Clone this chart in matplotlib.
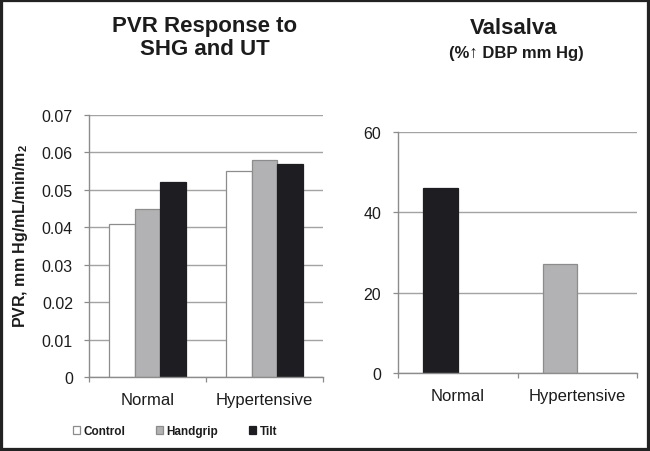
"""PVR response to SHG/UT and Valsalva DBP rise, normal vs hypertensive."""
from __future__ import annotations

import matplotlib
matplotlib.use("Agg")
import matplotlib.pyplot as plt
import numpy as np
from matplotlib.patches import Rectangle

GROUPS = ["Normal", "Hypertensive"]
PVR_SERIES = ["Control", "Handgrip", "Tilt"]
PVR_CONTROL = [0.041, 0.055]
PVR_HANDGRIP = [0.045, 0.058]
PVR_TILT = [0.052, 0.057]
PVR_TICKS = [0, 0.01, 0.02, 0.03, 0.04, 0.05, 0.06, 0.07]
PVR_TICK_LABELS = ["0", "0.01", "0.02", "0.03", "0.04", "0.05", "0.06", "0.07"]
VALSALVA = [46, 27]
VALSALVA_TICKS = [0, 20, 40, 60]

INK = "#1c1c1c"
EDGE = "#8c8c8c"
GRID = "#a3a3a3"
DARK = "#1e1e22"
GREY = "#b2b2b4"


def style_axes(ax) -> None:
    ax.spines[["top", "right"]].set_visible(False)
    ax.spines[["left", "bottom"]].set_color(EDGE)
    ax.spines[["left", "bottom"]].set_linewidth(1.0)
    ax.set_axisbelow(True)
    ax.yaxis.grid(True, color=GRID, lw=1.0)
    ax.tick_params(axis="y", direction="out", length=3.6, width=0.9, color=EDGE,
                   pad=8, labelsize=11.5, labelcolor=INK)
    ax.tick_params(axis="x", which="major", direction="out", length=3.6, width=0.9,
                   color=EDGE, labelbottom=False)
    ax.tick_params(axis="x", which="minor", length=0, pad=11, labelsize=12, labelcolor=INK)
    ax.set_xlim(-0.5, 1.5)
    ax.set_xticks([-0.5, 0.5, 1.5])
    ax.set_xticks(np.arange(len(GROUPS)), GROUPS, minor=True)


def main() -> None:
    plt.rcParams.update({
        "font.family": ["Liberation Sans", "DejaVu Sans"],
        "mathtext.fontset": "custom", "mathtext.rm": "Liberation Sans:bold",
        "mathtext.default": "rm",
    })
    fig = plt.figure(figsize=(6.5, 4.52), dpi=100)

    # left: grouped PVR bars
    ax = fig.add_axes([89 / 650, 74 / 452, 234 / 650, 262 / 452])
    x = np.arange(len(GROUPS))
    w = 0.222
    hc = ax.bar(x - w, PVR_CONTROL, w, color="white", edgecolor=EDGE, lw=0.9)
    hh = ax.bar(x, PVR_HANDGRIP, w, color=GREY, edgecolor=EDGE, lw=0.9)
    ht = ax.bar(x + w, PVR_TILT, w, color=DARK, edgecolor=DARK, lw=0.9)
    ax.set_ylim(0, 0.07)
    style_axes(ax)
    ax.set_yticks(PVR_TICKS, PVR_TICK_LABELS)

    # baseline of a multi-line text is that of its last line
    fig.text(205 / 650, 1 - 55 / 452, "PVR Response to\nSHG and UT", ha="center", va="baseline",
             fontsize=16, fontweight="bold", color=INK, linespacing=1.12)
    fig.text(21 / 650, 1 - 236 / 452, "PVR, mm Hg/mL/min/m$_2$", rotation=90,
             ha="center", va="center", fontsize=11.5, fontweight="bold", color=INK)
    fig.legend([hc, hh, ht], PVR_SERIES, loc="center", bbox_to_anchor=(175 / 650, 1 - 432 / 452),
               ncol=3, frameon=False, prop={"size": 8.5, "weight": "bold"},
               handlelength=0.6, handleheight=0.6,
               handletextpad=0.3, columnspacing=2.6, borderpad=0, labelcolor=INK)

    # right: Valsalva bars
    ax2 = fig.add_axes([398 / 650, 78 / 452, 239 / 650, 241.3 / 452])
    w2 = 0.29
    ax2.bar(x - w2 / 2, VALSALVA, w2, color=[DARK, GREY], edgecolor=[DARK, EDGE], lw=0.9)
    ax2.set_ylim(0, 60)
    style_axes(ax2)
    ax2.set_yticks(VALSALVA_TICKS)
    ax2.tick_params(axis="y", pad=8.5)

    fig.text(514 / 650, 1 - 34 / 452, "Valsalva", ha="center", va="baseline",
             fontsize=16, fontweight="bold", color=INK)
    fig.text(516 / 650, 1 - 58 / 452, "(%\u2191 DBP mm Hg)", ha="center", va="baseline",
             fontsize=12, fontweight="bold", color=INK)

    # dark frame round the whole picture
    fig.patches.append(Rectangle((0, 0), 1, 1, transform=fig.transFigure, fill=False,
                                 edgecolor="#222222", lw=4.5, clip_on=False))
    fig.savefig("out.png", dpi=100)


if __name__ == "__main__":
    main()
